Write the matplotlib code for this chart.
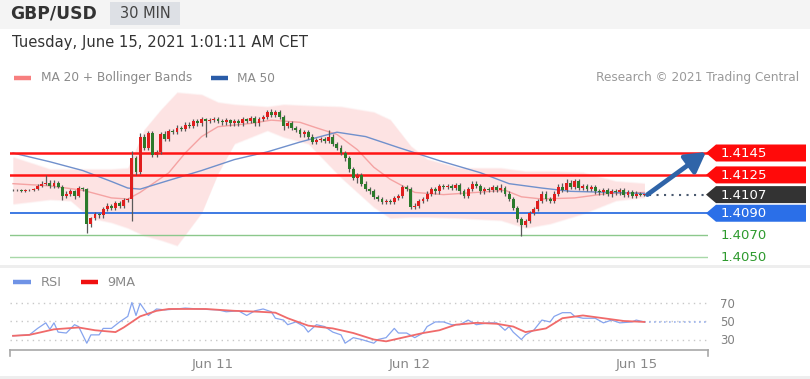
import matplotlib
matplotlib.use("Agg")
import matplotlib.pyplot as plt
from matplotlib.patches import Polygon, Rectangle, FancyArrowPatch
import numpy as np

plt.rcParams['font.family'] = ['DejaVu Sans']

# ---------------- data ----------------
closes = [
    1.4111, 1.4111, 1.4110, 1.4111, 1.4111, 1.4112, 1.4115, 1.4117, 1.4118, 1.4115,
    1.4118, 1.4114, 1.4106, 1.4108, 1.4110, 1.4106, 1.4113, 1.4112, 1.4080, 1.4086,
    1.4089, 1.4088, 1.4094, 1.4097, 1.4095, 1.4099, 1.4097, 1.4102, 1.4103, 1.4140,
    1.4128, 1.4160, 1.4150, 1.4163, 1.4143, 1.4146, 1.4162, 1.4158, 1.4165, 1.4164,
    1.4168, 1.4167, 1.4171, 1.4170, 1.4174, 1.4172, 1.4176, 1.4174, 1.4175, 1.4176,
    1.4174, 1.4173, 1.4175, 1.4172, 1.4174, 1.4172, 1.4176, 1.4174, 1.4177, 1.4172,
    1.4176, 1.4178, 1.4182, 1.4180, 1.4182, 1.4178, 1.4170, 1.4172, 1.4168, 1.4166,
    1.4162, 1.4164, 1.4160, 1.4155, 1.4157, 1.4158, 1.4156, 1.4160, 1.4153, 1.4150,
    1.4145, 1.4140, 1.4130, 1.4122, 1.4125, 1.4117, 1.4112, 1.4110, 1.4105, 1.4103,
    1.4100, 1.4101, 1.4100, 1.4104, 1.4106, 1.4114, 1.4112, 1.4096, 1.4097, 1.4101,
    1.4103, 1.4108, 1.4112, 1.4110, 1.4115, 1.4114, 1.4115, 1.4113, 1.4116, 1.4110,
    1.4106, 1.4112, 1.4117, 1.4115, 1.4110, 1.4112, 1.4111, 1.4114, 1.4111, 1.4113,
    1.4108, 1.4103, 1.4095, 1.4085, 1.4079, 1.4083, 1.4090, 1.4094, 1.4101, 1.4108,
    1.4103, 1.4101, 1.4108, 1.4114, 1.4111, 1.4118, 1.4114, 1.4119, 1.4113, 1.4115,
    1.4112, 1.4114, 1.4110, 1.4109, 1.4111, 1.4108, 1.4110, 1.4109, 1.4111, 1.4107,
    1.4109, 1.4106, 1.4108, 1.4107, 1.4107,
]
first_open = 1.4111
opens = [first_open] + closes[:-1]

wick_up_pips = [
    1, 1, 1, 1, 1, 1, 2, 2, 7, 2,
    2, 1, 2, 2, 2, 1, 2, 1, 1, 1,
    2, 1, 2, 2, 1, 2, 2, 2, 1, 7,
    2, 3, 2, 2, 2, 2, 2, 3, 2, 2,
    3, 2, 2, 2, 2, 2, 2, 1, 2, 2,
    2, 2, 2, 1, 2, 2, 2, 1, 2, 2,
    2, 2, 2, 3, 2, 2, 2, 2, 2, 2,
    2, 2, 2, 2, 2, 2, 2, 6, 2, 2,
    2, 2, 2, 2, 2, 2, 2, 2, 2, 2,
    2, 2, 2, 2, 2, 2, 2, 2, 2, 2,
    2, 2, 2, 2, 2, 2, 2, 2, 2, 2,
    2, 2, 2, 2, 2, 2, 2, 2, 2, 4,
    2, 2, 2, 2, 2, 2, 2, 2, 2, 2,
    2, 2, 2, 3, 4, 3, 2, 2, 2, 2,
    2, 2, 2, 2, 2, 2, 2, 2, 2, 2,
    2, 2, 2, 1, 1,
]
wick_dn_pips = [
    1, 1, 1, 1, 1, 1, 1, 1, 1, 2,
    2, 1, 4, 2, 2, 3, 1, 2, 8, 3,
    2, 2, 2, 2, 2, 2, 2, 2, 2, 20,
    3, 2, 2, 2, 2, 2, 2, 2, 2, 2,
    2, 2, 2, 2, 2, 2, 2, 14, 2, 2,
    2, 2, 2, 2, 2, 2, 2, 2, 2, 2,
    2, 2, 2, 2, 2, 2, 4, 2, 2, 2,
    2, 2, 2, 2, 2, 2, 2, 2, 2, 2,
    2, 2, 2, 2, 4, 2, 2, 2, 2, 2,
    2, 2, 2, 2, 2, 2, 2, 2, 2, 2,
    2, 2, 2, 2, 2, 2, 2, 2, 2, 2,
    2, 2, 2, 2, 2, 2, 2, 2, 2, 2,
    2, 2, 2, 3, 10, 2, 2, 2, 2, 2,
    2, 2, 2, 2, 2, 2, 2, 2, 2, 2,
    2, 2, 2, 2, 2, 2, 3, 2, 2, 2,
    2, 2, 2, 1, 1,
]

# Bollinger band (upper/lower) sampled at candle indices
band_idx = [0, 9, 14, 19, 24, 28, 32, 36, 40, 46, 50, 54, 62, 66, 72, 80, 88, 92,
            97, 101, 109, 119, 125, 131, 139, 147, 154]
band_upper = [1.4141, 1.4130, 1.4130, 1.4130, 1.4130, 1.4131, 1.4166, 1.4184, 1.4200,
              1.4198, 1.4191, 1.4189, 1.4187, 1.4189, 1.4188, 1.4187, 1.4182, 1.4175,
              1.4151, 1.4139, 1.4131, 1.4131, 1.4128, 1.4128, 1.4127, 1.4119, 1.4117]
band_lower = [1.4099, 1.4103, 1.4102, 1.4086, 1.4082, 1.4077, 1.4070, 1.4066, 1.4061,
              1.4091, 1.4127, 1.4154, 1.4166, 1.4160, 1.4154, 1.4123, 1.4096, 1.4086,
              1.4087, 1.4087, 1.4086, 1.4084, 1.4077, 1.4081, 1.4090, 1.4102, 1.4105]

ma20_idx = [0, 9, 17, 24, 28, 31, 38, 42, 46, 50, 58, 63, 70, 74, 79, 84, 88, 92,
            98, 105, 113, 120, 124, 129, 137, 145, 154]
ma20_val = [1.4117, 1.4115, 1.4111, 1.4104, 1.4103, 1.4109, 1.4127, 1.4145, 1.4160,
            1.4169, 1.4172, 1.4175, 1.4173, 1.4168, 1.4162, 1.4148, 1.4132, 1.4121,
            1.4109, 1.4107, 1.4109, 1.4111, 1.4105, 1.4103, 1.4104, 1.4108, 1.4109]

ma50_idx = [0, 9, 17, 24, 28, 31, 38, 46, 54, 62, 70, 79, 86, 94, 104, 114, 121,
            129, 136, 146, 154]
ma50_val = [1.4145, 1.4137, 1.4129, 1.4119, 1.4113, 1.4112, 1.4120, 1.4129, 1.4139,
            1.4146, 1.4155, 1.4164, 1.4160, 1.4150, 1.4138, 1.4127, 1.4117, 1.4113,
            1.4110, 1.4109, 1.4108]

rsi_idx = [0, 4, 6, 8, 9, 10, 11, 13, 15, 16, 18, 19, 21, 22, 24, 26, 28, 29, 30, 31,
           33, 35, 37, 40, 42, 45, 50, 52, 55, 57, 59, 61, 63, 64, 66, 67, 69, 71, 72,
           74, 76, 78, 80, 81, 83, 85, 88, 89, 91, 93, 94, 96, 98, 100, 101, 103, 105,
           107, 109, 111, 113, 116, 118, 120, 121, 122, 124, 125, 127, 129, 131, 132,
           134, 136, 137, 139, 142, 144, 146, 148, 151, 152, 154]
rsi_val = [34, 35, 42, 48, 41, 48, 38, 37, 46, 44, 26, 35, 35, 42, 42, 49, 55, 70, 56, 69,
           56, 63, 62, 63, 64, 63, 62, 60, 61, 56, 61, 63, 60, 53, 51, 46, 49, 44, 38,
           46, 44, 38, 35, 26, 32, 30, 26, 30, 32, 42, 37, 37, 32, 37, 44, 49, 49,
           46, 46, 51, 46, 48, 48, 40, 44, 38, 30, 35, 40, 51, 49, 55,
           59, 59, 55, 53, 53, 48, 51, 48, 49, 51, 49]

ma9_idx = [0, 4, 10, 16, 20, 25, 27, 31, 35, 38, 47, 54, 60, 64, 67, 72, 78, 83, 88,
           91, 95, 100, 104, 108, 113, 118, 122, 125, 130, 134, 139, 144, 149, 154]
ma9_val = [34, 35, 41, 43, 40, 38, 43, 55, 61, 63, 63, 61, 60, 59, 53, 45, 42, 37, 30,
           28, 32, 37, 40, 46, 48, 47, 44, 38, 42, 53, 56, 53, 50, 49]

levels = [1.4145, 1.4125, 1.4107, 1.4090, 1.4070, 1.4050]
level_labels = ["1.4145", "1.4125", "1.4107", "1.4090", "1.4070", "1.4050"]
date_ticks = [48.8, 96.8, 152.2]
date_labels = ["Jun 11", "Jun 12", "Jun 15"]
rsi_levels = [70, 50, 30]

# ---------------- figure ----------------
W, H = 810, 379
fig = plt.figure(figsize=(W / 100, H / 100), dpi=100)
fig.patch.set_facecolor("white")


def rect(px0, py0, px1, py1):
    return [px0 / W, 1 - py1 / H, (px1 - px0) / W, (py1 - py0) / H]


bg = fig.add_axes([0, 0, 1, 1], zorder=0)
bg.set_xlim(0, W); bg.set_ylim(H, 0); bg.axis("off")

# header
bg.add_patch(Rectangle((0, 0), W, 29, color="#f4f4f4", lw=0))
bg.add_patch(Rectangle((110, 2), 70, 23, color="#dde0e5", lw=0))
bg.text(10, 14, "GBP/USD", fontsize=12.3, fontweight="bold", color="#333333", va="center", ha="left")
bg.text(145, 14, "30 MIN", fontsize=10.5, color="#444444", va="center", ha="center")
bg.text(12, 42, "Tuesday, June 15, 2021 1:01:11 AM CET", fontsize=10.6, color="#333333",
        va="center", ha="left")
# legend
bg.plot([14, 31], [78, 78], color="#f77f7f", lw=3.2, solid_capstyle="butt")
bg.text(41, 78, "MA 20 + Bollinger Bands", fontsize=8.7, color="#8a8a8a", va="center")
bg.plot([211, 228], [78, 78], color="#2a5ca8", lw=3.2, solid_capstyle="butt")
bg.text(237, 78, "MA 50", fontsize=8.7, color="#8a8a8a", va="center")
bg.text(799, 77, "Research \u00a9 2021 Trading Central", fontsize=8.7, color="#9a9a9a",
        va="center", ha="right")
# separators
bg.add_patch(Rectangle((0, 265), W, 3, color="#eeeeee", lw=0))
bg.add_patch(Rectangle((0, 376), W, 3, color="#eeeeee", lw=0))
bg.plot([13, 31], [282, 282], color="#6f93e6", lw=3.2, solid_capstyle="butt")
bg.text(41, 282, "RSI", fontsize=9.3, color="#8a8a8a", va="center")
bg.plot([81, 98], [282, 282], color="#f01010", lw=3.2, solid_capstyle="butt")
bg.text(107, 282, "9MA", fontsize=9.3, color="#8a8a8a", va="center")

# ---------------- main price axes ----------------
ax = fig.add_axes(rect(10, 90, 708, 262), zorder=1)
ax.patch.set_alpha(0)
ax.axis("off")
ax.set_xlim((10 - 13) / 4.1, (708 - 13) / 4.1)
ax.set_ylim(1.4145 - (262 - 153) * 0.0000913, 1.4145 + (153 - 90) * 0.0000913)

bu = np.array(band_upper); bl = np.array(band_lower)
for grow, alpha in ((0.00012, 0.25), (0.00006, 0.4), (0.0, 1.0)):
    ax.fill_between(band_idx, bl - grow, bu + grow, color="#fde3e3", alpha=alpha,
                    lw=0, zorder=1)
ax.plot(ma20_idx, ma20_val, color="#f5a3a3", lw=1.0, zorder=2)
ax.plot(ma50_idx, ma50_val, color="#7090cc", lw=1.0, zorder=2)

level_colors = ["#ff1414", "#ff1414", None, "#2f6fe0", "#8cc88c", "#a8d8a8"]
level_lw = [1.8, 1.8, 0, 1.3, 1.0, 1.0]
for lv, col, lw in zip(levels, level_colors, level_lw):
    if col is not None:
        ax.axhline(lv, color=col, lw=lw, zorder=2.5)

o = np.array(opens); c = np.array(closes)
idx = np.arange(len(closes))
hi = np.maximum(o, c) + np.array(wick_up_pips) * 0.0001
lo = np.minimum(o, c) - np.array(wick_dn_pips) * 0.0001
up = c >= o
ax.vlines(idx, lo, hi, color="#5a5a5a", lw=0.9, zorder=3)
body_h = np.maximum(np.abs(c - o), 0.00003)
ax.bar(idx, body_h, bottom=np.minimum(o, c), width=0.72,
       color=np.where(up, "#e01e1e", "#2b7a2b"), lw=0, zorder=4)

# dotted current-price line
ax.hlines(closes[-1], idx[-1] + 1, ax.get_xlim()[1] - 0.8, color="#4a5a70", lw=1.5,
          linestyles=(0, (1, 2.6)), zorder=3)

# ---------------- RSI axes ----------------
ax2 = fig.add_axes(rect(10, 290, 708, 350), zorder=1)
ax2.patch.set_alpha(0)
ax2.set_xlim(ax.get_xlim())
ax2.set_ylim(50 - (350 - 321) / 0.925, 50 + (321 - 290) / 0.925)
for s in ["top", "left", "right"]:
    ax2.spines[s].set_visible(False)
ax2.spines["bottom"].set_color("#a8a8a8")
ax2.spines["bottom"].set_linewidth(1.2)
for lv in rsi_levels:
    ax2.axhline(lv, color="#c8c8c8", lw=1.0, linestyle=(0, (1, 3)), zorder=1)
ax2.plot(rsi_idx, rsi_val, color="#86a4ee", lw=0.9, zorder=2)
ax2.plot(ma9_idx, ma9_val, color="#f06a6a", lw=1.3, zorder=3)
ax2.hlines(rsi_val[-1], rsi_idx[-1], ax2.get_xlim()[1], color="#9db4ee", lw=1.2,
           linestyles=(0, (1, 2)), zorder=2)
ax2.set_xticks(date_ticks, date_labels)
ax2.tick_params(axis="x", length=0, pad=6, labelsize=9.5, labelcolor="#888888")
ax2.yaxis.tick_right()
ax2.set_yticks(rsi_levels, [str(v) for v in rsi_levels])
ax2.tick_params(axis="y", length=0, pad=9, labelsize=8.5, labelcolor="#808080")

# ---------------- foreground overlay (labels, arrow) ----------------
fg = fig.add_axes([0, 0, 1, 1], zorder=5)
fg.set_xlim(0, W); fg.set_ylim(H, 0); fg.axis("off")
fg.patch.set_alpha(0)


def price_px(p):
    d = ax.transData.transform((0, p))
    return fg.transData.inverted().transform(d)[1]


box_colors = ["#ff0a0a", "#ff0a0a", "#333333", "#2b6fe8", None, None]
for lv, lab, bc in zip(levels, level_labels, box_colors):
    y = price_px(lv)
    if bc is not None:
        fg.add_patch(Polygon([(706, y), (716, y - 8.5), (806, y - 8.5), (806, y + 8.5),
                              (716, y + 8.5)], closed=True, color=bc, lw=0))
        fg.text(721, y + 0.5, lab, fontsize=9.5, color="white", va="center", ha="left")
    else:
        fg.text(721, y + 0.5, lab, fontsize=9.5, color="#2e9a2e", va="center", ha="left")

# RSI axis end ticks
for xe in (10, 708):
    fg.plot([xe, xe], [350, 356], color="#a8a8a8", lw=1.2)

# trend arrow
y0 = price_px(closes[-1])
x0 = (idx[-1] * 4.1 + 13) + 3
arr = FancyArrowPatch((x0, y0), (706, price_px(levels[0]) - 1),
                      arrowstyle="-|>,head_length=0.7,head_width=0.4",
                      mutation_scale=17, color="#2f64a8", lw=3.4, shrinkA=0, shrinkB=0)
fg.add_patch(arr)

fig.savefig("out.png", dpi=100, facecolor="white")
